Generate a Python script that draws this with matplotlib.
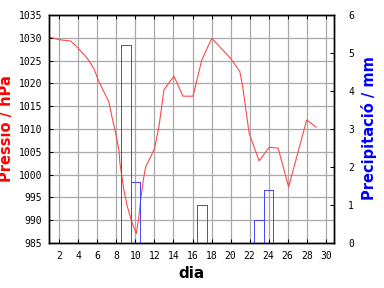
import matplotlib
matplotlib.use("Agg")
import matplotlib.pyplot as plt

# daily pressure readings (hPa) and rain (mm)
days = [1.07, 1.95, 3.18, 3.73, 4.94, 5.63, 6.16, 6.68, 7.2, 7.57, 7.92, 8.27, 8.37,
        8.79, 9.15, 9.67, 10.02, 10.1, 10.37, 10.55, 10.83, 11.07, 11.6, 12.02, 12.47,
        12.76, 13.0, 14.05, 15.0, 16.05, 16.97, 18.02, 20.0, 20.97, 21.25, 21.95, 22.2,
        23.0, 24.05, 25.0, 26.1, 28.0, 29.0]
pressure = [1030.1, 1029.6, 1029.3, 1028.3, 1025.5, 1023.3, 1020.4, 1018.2, 1016.0,
            1012.3, 1009.1, 1005.4, 1002.5, 996.6, 993.0, 989.3, 987.5, 987.1, 990.8,
            994.4, 998.8, 1001.7, 1003.9, 1005.8, 1010.5, 1014.9, 1018.6, 1021.6,
            1017.2, 1017.2, 1025.1, 1029.9, 1025.5, 1022.6, 1019.6, 1009.1, 1007.6,
            1003.0, 1006.0, 1005.8, 997.3, 1012.0, 1010.4]

rain_days = [9, 10, 17, 23, 24]
rain = [5.2, 1.6, 1.0, 0.6, 1.4]

x_ticks = list(range(2, 31, 2))
p_ticks = list(range(985, 1036, 5))
r_ticks = list(range(0, 7))

W, H = 384, 288
fig = plt.figure(figsize=(W / 100, H / 100), dpi=100)
ax = fig.add_axes([49.3 / W, 45 / H, 285 / W, 228 / H])
ax2 = ax.twinx()

mono = {"family": "DejaVu Sans Mono", "size": 7}

ax.plot(days, pressure, color="#ff4848", linewidth=0.8, zorder=3)
ax.set_xlim(0.95, 30.9)
ax.set_ylim(985, 1035)
ax.set_xticks(x_ticks)
ax.set_yticks(p_ticks)
ax.set_xticklabels([str(t) for t in x_ticks], fontdict=mono)
ax.set_yticklabels([str(t) for t in p_ticks], fontdict=mono)
ax.grid(True, color="#a8a8a8", linewidth=0.9)
ax.set_axisbelow(True)
ax.tick_params(direction="in", length=3, width=0.75, top=True, right=False, pad=5)
ax.tick_params(axis="x", pad=6)

bars = ax2.bar(rain_days, rain, width=1.0, fill=False, edgecolor="#4848ff", linewidth=0.72)
for b in bars:
    b.set_antialiased(False)
ax2.set_ylim(0, 6)
ax2.set_yticks(r_ticks)
ax2.set_yticklabels([str(t) for t in r_ticks], fontdict=mono)
ax2.tick_params(direction="in", length=3, width=0.75, pad=10)

for a in (ax, ax2):
    for s in a.spines.values():
        s.set_linewidth(1.0)

fig.text(7 / W, 1 - 129 / H, "Pressió / hPa", rotation=90, ha="center", va="center",
         color="#ff0000", fontsize=10.5, fontweight="bold")
fig.text(369 / W, 1 - 128 / H, "Precipitació / mm", rotation=90, ha="center", va="center",
         color="#0000ff", fontsize=10.5, fontweight="bold")
fig.text(191.8 / W, 1 - 274 / H, "dia", ha="center", va="center",
         color="black", fontsize=11, fontweight="bold")

fig.savefig("out.png", dpi=100)
